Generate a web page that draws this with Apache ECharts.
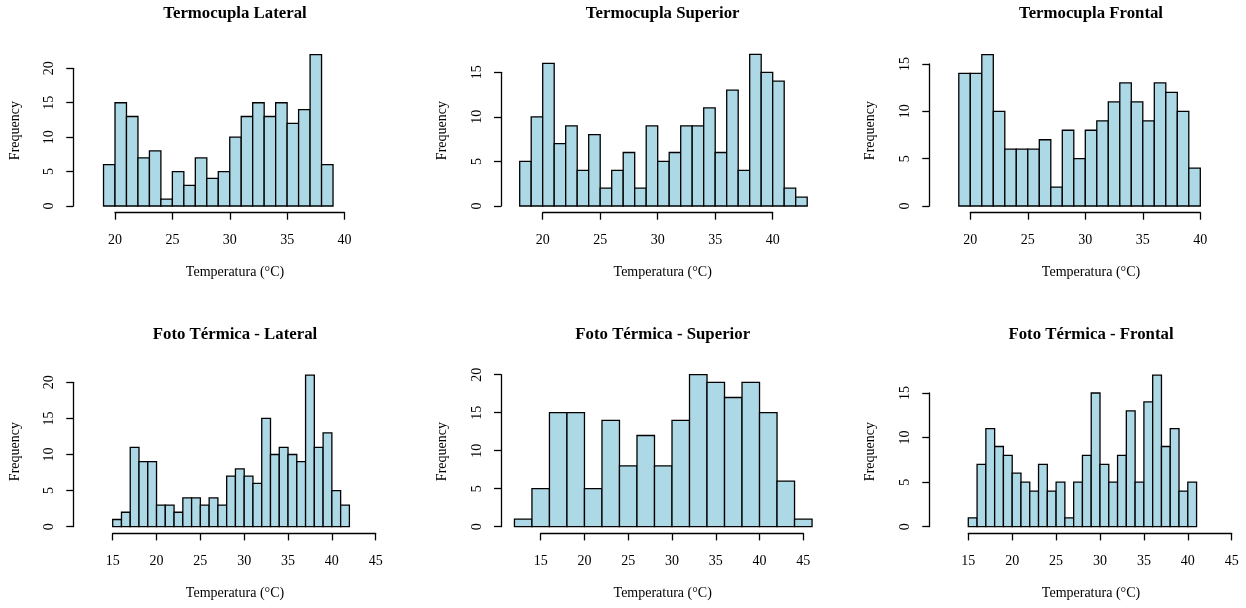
<!DOCTYPE html>
<html>
<head>
<meta charset="utf-8">
<script src="https://cdn.jsdelivr.net/npm/echarts@6/dist/echarts.min.js"></script>
<style>
html,body{margin:0;padding:0;background:#ffffff;}
#chart{width:1246px;height:608px;}
</style>
</head>
<body>
<div id="chart"></div>
<script>
// ---------- DATA ----------
const panelTitles = [
  "Termocupla Lateral", "Termocupla Superior", "Termocupla Frontal",
  "Foto Térmica - Lateral", "Foto Térmica - Superior", "Foto Térmica - Frontal"
];
const xAxisName = "Temperatura (°C)";
const yAxisName = "Frequency";

// bin edges and counts
const edgesTermLateral = [19,20,21,22,23,24,25,26,27,28,29,30,31,32,33,34,35,36,37,38,39];
const countsTermLateral = [6,15,13,7,8,1,5,3,7,4,5,10,13,15,13,15,12,14,22,6];

const edgesTermSuperior = [18,19,20,21,22,23,24,25,26,27,28,29,30,31,32,33,34,35,36,37,38,39,40,41,42,43];
const countsTermSuperior = [5,10,16,7,9,4,8,2,4,6,2,9,5,6,9,9,11,6,13,4,17,15,14,2,1];

const edgesTermFrontal = [19,20,21,22,23,24,25,26,27,28,29,30,31,32,33,34,35,36,37,38,39,40];
const countsTermFrontal = [14,14,16,10,6,6,6,7,2,8,5,8,9,11,13,11,9,13,12,10,4];

const edgesFotoLateral = [15,16,17,18,19,20,21,22,23,24,25,26,27,28,29,30,31,32,33,34,35,36,37,38,39,40,41,42];
const countsFotoLateral = [1,2,11,9,9,3,3,2,4,4,3,4,3,7,8,7,6,15,10,11,10,9,21,11,13,5,3];

const edgesFotoSuperior = [12,14,16,18,20,22,24,26,28,30,32,34,36,38,40,42,44,46];
const countsFotoSuperior = [1,5,15,15,5,14,8,12,8,14,20,19,17,19,15,6,1];

const edgesFotoFrontal = [15,16,17,18,19,20,21,22,23,24,25,26,27,28,29,30,31,32,33,34,35,36,37,38,39,40,41];
const countsFotoFrontal = [1,7,11,9,8,6,5,4,7,4,5,1,5,8,15,7,5,8,13,5,14,17,9,11,4,5];

// tick labels
const xTicksTop = [20,25,30,35,40];
const xTicksBottom = [15,20,25,30,35,40,45];
const yTicks20 = [0,5,10,15,20];
const yTicks15 = [0,5,10,15];

// ---------- LAYOUT ----------
const panels = [
  {edges: edgesTermLateral,  counts: countsTermLateral,  xt: xTicksTop,    yt: yTicks20, g:{left:115,   top:68.3,  width:229.5, height:137.7}, yOff:41.7, col:0, row:0},
  {edges: edgesTermSuperior, counts: countsTermSuperior, xt: xTicksTop,    yt: yTicks15, g:{left:542.7, top:72.3,  width:230,   height:133.7}, yOff:41.7, col:1, row:0},
  {edges: edgesTermFrontal,  counts: countsTermFrontal,  xt: xTicksTop,    yt: yTicks15, g:{left:970.3, top:64,    width:230,   height:142},   yOff:41,   col:2, row:0},
  {edges: edgesFotoLateral,  counts: countsFotoLateral,  xt: xTicksBottom, yt: yTicks20, g:{left:112.7, top:382.3, width:263,   height:144.4}, yOff:39.4, col:0, row:1},
  {edges: edgesFotoSuperior, counts: countsFotoSuperior, xt: xTicksBottom, yt: yTicks20, g:{left:540.7, top:374.7, width:262.6, height:152},   yOff:39.7, col:1, row:1},
  {edges: edgesFotoFrontal,  counts: countsFotoFrontal,  xt: xTicksBottom, yt: yTicks15, g:{left:968.3, top:393,   width:263.4, height:133.7}, yOff:39,   col:2, row:1}
];
const colCenters = [235, 662.7, 1091];
const freqX = [15, 442.7, 870.3];
const rowTitleY = [14, 335];
const rowXNameY = [272.7, 593.5];
const rowFreqY = [130.6, 451.6];

const FONT = "'Liberation Serif', 'DejaVu Serif', serif";
const BLACK = '#000000';

const grids = [], xAxes = [], yAxes = [], series = [], graphics = [];

panels.forEach((p, i) => {
  grids.push(Object.assign({outerBoundsMode: 'none', containLabel: false}, p.g));
  xAxes.push({
    gridIndex: i, type: 'value',
    min: p.xt[0], max: p.xt[p.xt.length - 1], interval: p.xt[1] - p.xt[0],
    position: 'bottom', offset: 6.7,
    axisLine: {show: true, onZero: false, lineStyle: {color: BLACK, width: 1.3}},
    axisTick: {show: true, inside: false, length: 7, lineStyle: {color: BLACK, width: 1.3}},
    axisLabel: {show: true, margin: 21, color: BLACK, fontFamily: FONT, fontSize: 14, showMinLabel: true, showMaxLabel: true, hideOverlap: false},
    splitLine: {show: false}
  });
  yAxes.push({
    gridIndex: i, type: 'value',
    min: p.yt[0], max: p.yt[p.yt.length - 1], interval: p.yt[1] - p.yt[0],
    position: 'left', offset: p.yOff,
    axisLine: {show: true, onZero: false, lineStyle: {color: BLACK, width: 1.3}},
    axisTick: {show: true, inside: false, length: 7, lineStyle: {color: BLACK, width: 1.3}},
    axisLabel: {show: true, rotate: 90, margin: 17, color: BLACK, fontFamily: FONT, fontSize: 14, showMinLabel: true, showMaxLabel: true, hideOverlap: false},
    splitLine: {show: false}
  });
  const data = p.counts.map((c, k) => [p.edges[k], p.edges[k + 1], c]);
  series.push({
    type: 'custom', xAxisIndex: i, yAxisIndex: i, clip: false, silent: true,
    encode: {x: [0, 1], y: 2},
    data: data,
    renderItem: function (params, api) {
      const topLeft = api.coord([api.value(0), api.value(2)]);
      const botRight = api.coord([api.value(1), 0]);
      return {
        type: 'rect',
        shape: {x: topLeft[0], y: topLeft[1], width: botRight[0] - topLeft[0], height: botRight[1] - topLeft[1]},
        style: {fill: '#ADD8E6', stroke: BLACK, lineWidth: 1.3}
      };
    }
  });
  // panel title
  graphics.push({
    type: 'text', x: colCenters[p.col], y: rowTitleY[p.row],
    style: {text: panelTitles[i], fill: BLACK, font: "bold 16.8px " + FONT, align: 'center', verticalAlign: 'middle', textAlign: 'center', textVerticalAlign: 'middle'}
  });
  // x axis name
  graphics.push({
    type: 'text', x: colCenters[p.col], y: rowXNameY[p.row],
    style: {text: xAxisName, fill: BLACK, font: "14px " + FONT, align: 'center', verticalAlign: 'middle', textAlign: 'center', textVerticalAlign: 'middle'}
  });
  // y axis name
  graphics.push({
    type: 'text', x: freqX[p.col], y: rowFreqY[p.row], rotation: Math.PI / 2,
    style: {text: yAxisName, fill: BLACK, font: "14px " + FONT, align: 'center', verticalAlign: 'middle', textAlign: 'center', textVerticalAlign: 'middle'}
  });
});

const chart = echarts.init(document.getElementById('chart'), null, {renderer: 'canvas'});
chart.setOption({
  backgroundColor: '#ffffff',
  animation: false,
  grid: grids,
  xAxis: xAxes,
  yAxis: yAxes,
  series: series,
  graphic: graphics
});
</script>
</body>
</html>
